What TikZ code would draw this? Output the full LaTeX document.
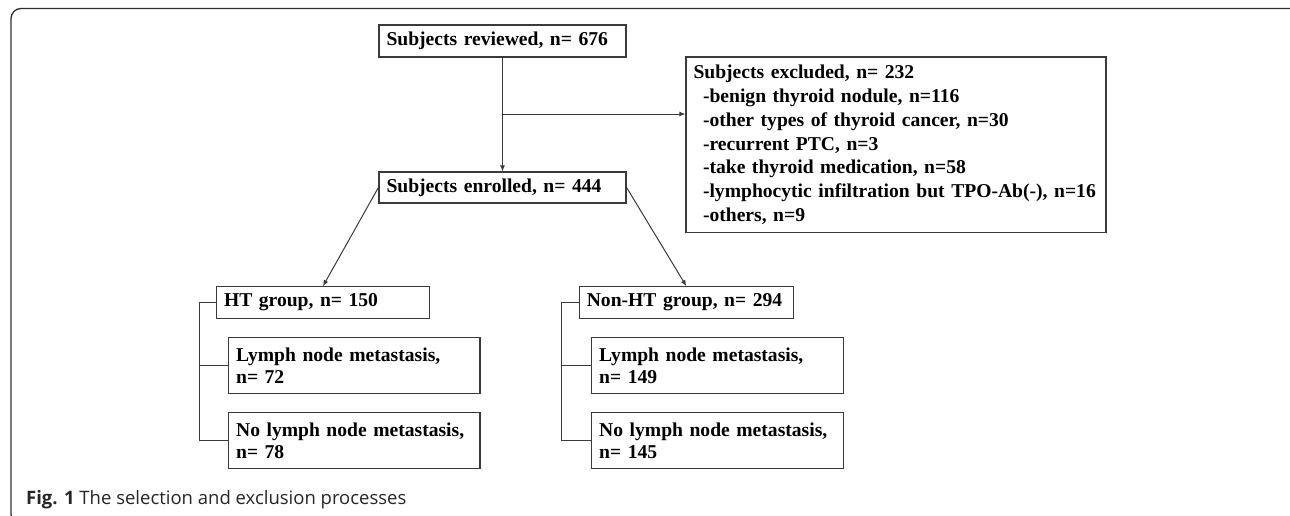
\documentclass[tikz,border=0pt]{standalone}
\usepackage{fontspec}
\setmainfont{Liberation Serif}
\newfontfamily\capfont{Open Sans}
\usetikzlibrary{arrows.meta}
\definecolor{linegray}{HTML}{3A3A3A}
\definecolor{framegray}{HTML}{2E2E2E}
\tikzset{
  box/.style={draw=linegray, line width=1.2pt, rectangle, inner xsep=7.5pt, inner ysep=0pt,
    align=left, font=\fontsize{19.6}{21.7}\selectfont\bfseries},
  conn/.style={draw=linegray, line width=1pt},
  arr/.style={conn, -{Latex[length=6pt,width=5pt]}},
}
\begin{document}
\begin{tikzpicture}[x=1pt, y=-1pt]
\clip (0,0) rectangle (1290,515);
\draw[framegray, line width=1.3pt, rounded corners=10pt] (11,8.5) rectangle (1300,524);

\node[box, minimum width=247pt, minimum height=32pt, text width=232pt] (rev) at (502.5,41) {Subjects reviewed, n= 676};
\node[box, minimum width=247pt, minimum height=31pt, text width=232pt] (enr) at (502.5,187.5) {Subjects enrolled, n= 444};
\node[box, minimum width=420pt, minimum height=175.5pt, text width=405pt,
      font=\fontsize{19.6}{23.9}\selectfont\bfseries] (exc) at (896,144.75)
  {Subjects excluded, n= 232\\
   \hspace*{9.5pt}\mbox{-benign thyroid nodule, n=116}\\
   \hspace*{9.5pt}\mbox{-other types of thyroid cancer, n=30}\\
   \hspace*{9.5pt}\mbox{-recurrent PTC, n=3}\\
   \hspace*{9.5pt}\mbox{-take thyroid medication, n=58}\\
   \hspace*{9.5pt}\mbox{-lymphocytic infiltration but TPO-Ab(-), n=16}\\
   \hspace*{9.5pt}\mbox{-others, n=9}};

\node[box, minimum width=213pt, minimum height=31.6pt, text width=198pt] (HT) at (323,302.5) {\mbox{HT group, n= 150}};
\node[box, minimum width=251.4pt, minimum height=55.6pt, text width=236.4pt] (HTL) at (354.3,365.5) {Lymph node metastasis,\\n= 72};
\node[box, minimum width=251.4pt, minimum height=55.6pt, text width=236.4pt] (HTN) at (354.3,440.5) {\mbox{No lymph node metastasis,}\\n= 78};

\node[box, minimum width=214pt, minimum height=31.6pt, text width=199pt] (NHT) at (686.3,302.5) {\mbox{Non-HT group, n= 294}};
\node[box, minimum width=251.6pt, minimum height=55.6pt, text width=236.6pt] (NHL) at (717.5,365.5) {Lymph node metastasis,\\n= 149};
\node[box, minimum width=251.6pt, minimum height=55.6pt, text width=236.6pt] (NHN) at (717.5,440.5) {\mbox{No lymph node metastasis,}\\n= 145};

% main flow
\draw[arr] (rev.south) -- (enr.north);
\coordinate (br) at (502.5,114);
\draw[arr] (br) -- (br -| exc.west);
\draw[arr] (enr.west) -- (HT.north);
\draw[arr] (enr.east) -- (NHT.north);

% brackets
\coordinate (bHT) at (199,302.5);
\draw[conn] (HT.west) -- (bHT) |- (HTN.west);
\draw[conn] (HTL.west) -- (HTL.west -| bHT);
\coordinate (bNHT) at (561.7,302.5);
\draw[conn] (NHT.west) -- (bNHT) |- (NHN.west);
\draw[conn] (NHL.west) -- (NHL.west -| bNHT);

% caption
\node[anchor=base west, inner sep=0pt, text=black!85, font=\capfont\fontsize{18.5}{22}\selectfont] (cap) at (26,504)
  {\textbf{Fig. 1} The selection and exclusion processes};
\end{tikzpicture}
\end{document}
